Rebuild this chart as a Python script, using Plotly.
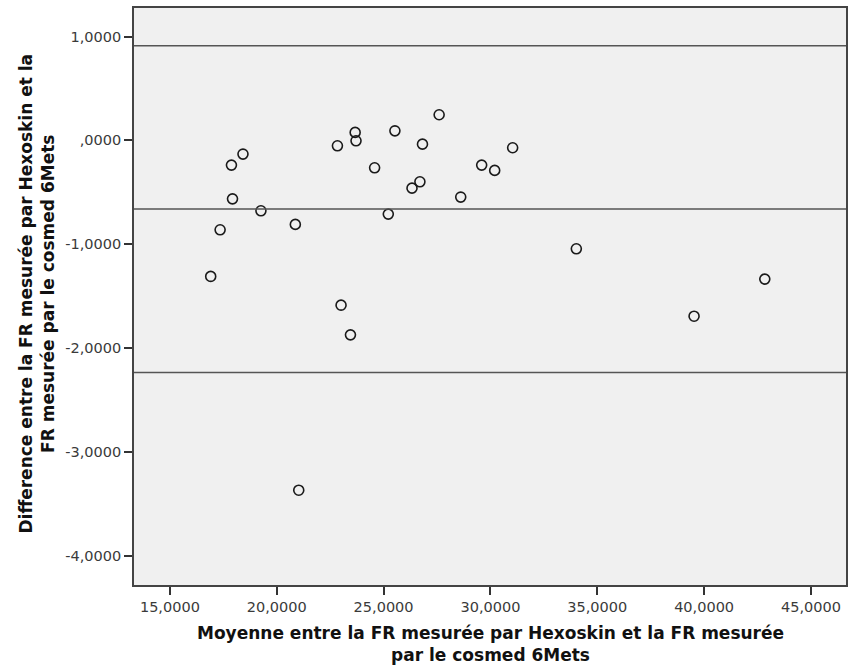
import plotly.graph_objects as go

# Data (Bland-Altman plot)
moyenne = [16.91, 17.35, 17.88, 18.42, 17.93, 19.26, 20.87, 22.84, 23.67, 23.71,
           23.01, 23.45, 24.58, 25.22, 25.53, 26.33, 26.70, 26.82, 27.60, 28.61,
           29.59, 30.20, 31.04, 21.03, 34.02, 39.53, 42.84]
difference = [-1.310, -0.861, -0.238, -0.132, -0.563, -0.678, -0.809, -0.052, 0.077, -0.004,
              -1.587, -1.873, -0.264, -0.710, 0.092, -0.460, -0.399, -0.036, 0.247, -0.546,
              -0.238, -0.289, -0.071, -3.369, -1.044, -1.693, -1.336]
ref_lines = [0.911, -0.662, -2.235]  # upper LoA, mean, lower LoA

x_ticks = [15, 20, 25, 30, 35, 40, 45]
x_labels = ["15,0000", "20,0000", "25,0000", "30,0000", "35,0000", "40,0000", "45,0000"]
y_ticks = [1, 0, -1, -2, -3, -4]
y_labels = ["1,0000", ",0000", "-1,0000", "-2,0000", "-3,0000", "-4,0000"]

x_title = ["Moyenne entre la FR mesurée par Hexoskin et la FR mesurée", "par le cosmed 6Mets"]
y_title = ["Difference entre la FR mesurée par Hexoskin et la", "FR mesurée par le cosmed 6Mets"]

fig = go.Figure()
fig.add_trace(go.Scatter(
    x=moyenne, y=difference, mode="markers",
    marker=dict(symbol="circle-open", size=10, color="#1a1a1a", line=dict(width=1.6, color="#1a1a1a")),
    showlegend=False, hoverinfo="x+y",
))

for v in ref_lines:
    fig.add_shape(type="line", xref="paper", x0=0, x1=1, yref="y", y0=v, y1=v,
                  line=dict(color="#555555", width=1.5))

axis_common = dict(showgrid=False, zeroline=False, showline=True, linecolor="#444444", linewidth=1.8,
                   mirror=True, ticks="outside", ticklen=8, tickwidth=1.8, tickcolor="#333333",
                   tickfont=dict(family="DejaVu Sans", size=14.5, color="#3a3a3a"))

fig.update_layout(
    width=849, height=669,
    margin=dict(l=134, r=1, t=8, b=84),
    paper_bgcolor="white", plot_bgcolor="#f0f0f0",
    font=dict(family="DejaVu Sans", size=14, color="#3a3a3a"),
    xaxis=dict(range=[13.32, 46.64], tickvals=x_ticks, ticktext=x_labels, **axis_common),
    yaxis=dict(range=[-4.282, 1.275], tickvals=y_ticks, ticktext=y_labels, **axis_common),
    annotations=[
        dict(text="<br>".join("<b>" + t + "</b>" for t in x_title), xref="paper", yref="paper",
             x=0.5, y=0, xanchor="center", yanchor="top", yshift=-36, showarrow=False,
             font=dict(family="DejaVu Sans", size=17, color="#111111")),
        dict(text="<br>".join("<b>" + t + "</b>" for t in y_title), xref="paper", yref="paper",
             x=0, y=0.5, xanchor="center", yanchor="middle", xshift=-98, yshift=3, textangle=-90,
             showarrow=False, font=dict(family="DejaVu Sans", size=17, color="#111111")),
    ],
)

fig.write_html("out.html",
               config={"displayModeBar": False},
               post_script="document.body.style.margin='0px';document.body.style.overflow='hidden';")
